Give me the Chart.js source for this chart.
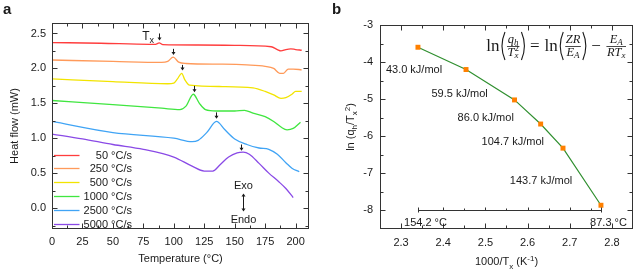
<!DOCTYPE html>
<html>
<head>
<meta charset="utf-8">
<script src="https://cdn.jsdelivr.net/npm/chart.js@4.4.3/dist/chart.umd.min.js"></script>
<style>
    html, body { margin: 0; padding: 0; background: #fff; }
    #wrap { position: relative; width: 638px; height: 272px; }
    canvas { position: absolute; top: 0; }
    #chartA { left: 0; }
    #chartB { left: 320px; }
</style>
</head>
<body>
<div id="wrap">
    <canvas id="chartA" width="320" height="272"></canvas>
    <canvas id="chartB" width="318" height="272"></canvas>
</div>
<script>
// -----------------------------
// Data: panel a (DSC heat flow curves)
// -----------------------------
const RATE_LABELS = ["50 °C/s", "250 °C/s", "500 °C/s", "1000 °C/s", "2500 °C/s", "5000 °C/s"];
const RATE_COLORS = ["#ff3d3d", "#ff9a5a", "#f2e400", "#40e640", "#40a4f5", "#8a4ae6"];

const T_50 = [0, 40, 80, 85, 88, 91, 120, 150, 180, 185, 188, 192, 196, 200, 205];
const HF_50 = [2.37, 2.36, 2.345, 2.345, 2.365, 2.34, 2.335, 2.33, 2.31, 2.27, 2.25, 2.27, 2.28, 2.27, 2.26];

const T_250 = [0, 50, 90, 95, 99.5, 104, 110, 140, 160, 175, 182, 187, 190, 194, 198, 205];
const HF_250 = [2.12, 2.10, 2.085, 2.10, 2.16, 2.09, 2.07, 2.06, 2.05, 2.03, 2.00, 1.93, 1.93, 1.99, 1.99, 1.98];

const T_500 = [0, 50, 95, 100, 103, 106.5, 109, 113, 140, 165, 175, 182, 188, 192, 197, 200, 205];
const HF_500 = [1.85, 1.81, 1.78, 1.79, 1.85, 1.93, 1.84, 1.76, 1.74, 1.72, 1.67, 1.62, 1.57, 1.58, 1.63, 1.67, 1.67];

const T_1000 = [0, 50, 90, 105, 110, 116, 121, 126, 135, 150, 158, 165, 175, 182, 188, 193, 198, 204];
const HF_1000 = [1.54, 1.48, 1.43, 1.41, 1.46, 1.63, 1.50, 1.41, 1.39, 1.39, 1.40, 1.36, 1.31, 1.24, 1.16, 1.12, 1.14, 1.23];

const T_2500 = [0, 50, 100, 115, 120, 127, 135, 142, 150, 160, 170, 178, 185, 192, 197, 203];
const HF_2500 = [1.24, 1.08, 1.00, 0.95, 0.97, 1.08, 1.24, 1.12, 0.99, 0.91, 0.86, 0.84, 0.77, 0.65, 0.57, 0.52];

const T_5000 = [0, 25, 50, 75, 100, 115, 125, 132, 138, 145, 152, 157, 162, 170, 178, 186, 192, 198];
const HF_5000 = [1.06, 0.99, 0.91, 0.84, 0.73, 0.60, 0.53, 0.53, 0.62, 0.73, 0.79, 0.80, 0.77, 0.64, 0.50, 0.38, 0.28, 0.15];

const TEMPS = [T_50, T_250, T_500, T_1000, T_2500, T_5000];
const FLOWS = [HF_50, HF_250, HF_500, HF_1000, HF_2500, HF_5000];

// Tx markers (arrow above each crystallisation peak)
const TX_TEMP = [88, 99.5, 107, 116.5, 134.5, 155.5];
const TX_ARROW_TOP = [2.50, 2.28, 2.05, 1.75, 1.37, 0.91];
const TX_ARROW_BOTTOM = [2.40, 2.19, 1.97, 1.66, 1.28, 0.82];

const A_X_TICKS = [0, 25, 50, 75, 100, 125, 150, 175, 200];
const A_Y_TICKS = [0, 0.5, 1.0, 1.5, 2.0, 2.5];

// -----------------------------
// Data: panel b (Kissinger plot)
// -----------------------------
const INV_TX = [2.340, 2.454, 2.569, 2.631, 2.684, 2.774];
const LN_Q_T2 = [-3.60, -4.20, -5.02, -5.67, -6.32, -7.86];

const EA_LABELS = ["43.0 kJ/mol", "59.5 kJ/mol", "86.0 kJ/mol", "104.7 kJ/mol", "143.7 kJ/mol"];
const EA_LABEL_X = [2.264, 2.372, 2.434, 2.491, 2.558];
const EA_LABEL_Y = [-4.22, -4.85, -5.50, -6.16, -7.21];

const TX_RANGE_LABELS = ["154.2 °C", "87.3 °C"];

const B_X_TICKS = [2.3, 2.4, 2.5, 2.6, 2.7, 2.8];
const B_Y_TICKS = [-8, -7, -6, -5, -4, -3];

const SANS = "'Liberation Sans', Arial, sans-serif";
const SERIF = "'Liberation Serif', 'Times New Roman', serif";
const INK = "#1a1a1a";

Chart.defaults.font.family = SANS;
Chart.defaults.font.size = 11;
Chart.defaults.color = INK;

// text with sub/superscripts: parts = [[text, ""|"sub"|"sup"], ...]
function richText(ctx, parts, x, y, size, align, rotate) {
    const fontFor = m => `${m ? Math.round(size * 0.72) : size}px ${SANS}`;
    let w = 0;
    parts.forEach(([t, m]) => { ctx.font = fontFor(m); w += ctx.measureText(t).width; });
    ctx.save();
    ctx.translate(x, y);
    if (rotate) ctx.rotate(-Math.PI / 2);
    let cx = align === "center" ? -w / 2 : align === "right" ? -w : 0;
    ctx.textAlign = "left";
    ctx.textBaseline = "alphabetic";
    ctx.fillStyle = INK;
    parts.forEach(([t, m]) => {
        ctx.font = fontFor(m);
        const dy = m === "sub" ? size * 0.3 : m === "sup" ? -size * 0.4 : 0;
        ctx.fillText(t, cx, size * 0.36 + dy);
        cx += ctx.measureText(t).width;
    });
    ctx.restore();
}

function minorValues(major, min, max) {
    const out = [];
    const step = major[1] - major[0];
    for (let i = 0; i < major.length - 1; i++) out.push((major[i] + major[i + 1]) / 2);
    const lo = major[0] - step / 2, hi = major[major.length - 1] + step / 2;
    if (lo > min + 1e-9) out.push(lo);
    if (hi < max - 1e-9) out.push(hi);
    return out;
}

// box frame with inward ticks on all four sides
function drawFrame(chart, xMajor, yMajor) {
    const { ctx, chartArea: a, scales: { x, y } } = chart;
    const L = Math.round(a.left) + 0.5, R = Math.round(a.right) - 0.5;
    const T = Math.round(a.top) + 0.5, B = Math.round(a.bottom) - 0.5;
    ctx.save();
    ctx.strokeStyle = "#333";
    ctx.lineWidth = 1;
    ctx.strokeRect(L, T, R - L, B - T);
    ctx.beginPath();
    const xt = (v, len) => {
        const px = Math.round(x.getPixelForValue(v)) + 0.5;
        ctx.moveTo(px, B); ctx.lineTo(px, B - len);
        ctx.moveTo(px, T); ctx.lineTo(px, T + len);
    };
    const yt = (v, len) => {
        const py = Math.round(y.getPixelForValue(v)) + 0.5;
        ctx.moveTo(L, py); ctx.lineTo(L + len, py);
        ctx.moveTo(R, py); ctx.lineTo(R - len, py);
    };
    xMajor.forEach(v => xt(v, 5));
    minorValues(xMajor, x.min, x.max).forEach(v => xt(v, 3));
    yMajor.forEach(v => yt(v, 5));
    minorValues(yMajor, y.min, y.max).forEach(v => yt(v, 3));
    ctx.stroke();
    ctx.restore();
}

function downArrow(ctx, px, top, bottom) {
    ctx.beginPath();
    ctx.moveTo(px, top);
    ctx.lineTo(px, bottom - 2);
    ctx.stroke();
    ctx.beginPath();
    ctx.moveTo(px - 2, bottom - 3);
    ctx.lineTo(px + 2, bottom - 3);
    ctx.lineTo(px, bottom);
    ctx.closePath();
    ctx.fill();
}

// -----------------------------
// Panel a
// -----------------------------
const panelAPlugin = {
    id: "panelA",
    afterDraw(chart) {
        const { ctx, chartArea: a, scales: { x, y } } = chart;
        drawFrame(chart, A_X_TICKS, A_Y_TICKS);

        ctx.save();
        ctx.strokeStyle = INK;
        ctx.fillStyle = INK;
        ctx.lineWidth = 1;
        TX_TEMP.forEach((t, i) => {
            const px = Math.round(x.getPixelForValue(t)) + 0.5;
            downArrow(ctx, px, y.getPixelForValue(TX_ARROW_TOP[i]), y.getPixelForValue(TX_ARROW_BOTTOM[i]));
        });
        richText(ctx, [["T", ""], ["x", "sub"]], x.getPixelForValue(74), y.getPixelForValue(2.47), 12, "left");

        // Exo / Endo
        const ex = Math.round(x.getPixelForValue(157)) + 0.5;
        ctx.font = `11px ${SANS}`;
        ctx.textAlign = "center";
        ctx.textBaseline = "middle";
        ctx.fillText("Exo", ex, y.getPixelForValue(0.31));
        ctx.fillText("Endo", ex, y.getPixelForValue(-0.17));
        const t0 = y.getPixelForValue(0.21), b0 = y.getPixelForValue(-0.05);
        ctx.beginPath(); ctx.moveTo(ex, t0 + 2); ctx.lineTo(ex, b0 - 2); ctx.stroke();
        ctx.beginPath(); ctx.moveTo(ex - 2, t0 + 3); ctx.lineTo(ex + 2, t0 + 3); ctx.lineTo(ex, t0); ctx.closePath(); ctx.fill();
        ctx.beginPath(); ctx.moveTo(ex - 2, b0 - 3); ctx.lineTo(ex + 2, b0 - 3); ctx.lineTo(ex, b0); ctx.closePath(); ctx.fill();

        // legend
        chart.data.datasets.forEach((ds, i) => {
            const ly = Math.round(a.bottom - 74.5 + i * 13.95) + 0.5;
            ctx.strokeStyle = ds.borderColor;
            ctx.lineWidth = 1.3;
            ctx.beginPath();
            ctx.moveTo(a.left + 2, ly);
            ctx.lineTo(a.left + 27.5, ly);
            ctx.stroke();
            ctx.fillStyle = INK;
            ctx.textAlign = "right";
            ctx.textBaseline = "middle";
            ctx.fillText(ds.label, a.left + 80, ly + 0.5);
        });

        // titles
        ctx.font = `11px ${SANS}`;
        ctx.textAlign = "center";
        ctx.fillText("Temperature (°C)", (a.left + a.right) / 2, 259);
        ctx.save();
        ctx.translate(15, (a.top + a.bottom) / 2);
        ctx.rotate(-Math.PI / 2);
        ctx.fillText("Heat flow (mW)", 0, 0);
        ctx.restore();

        ctx.font = `bold 15px ${SANS}`;
        ctx.textAlign = "left";
        ctx.textBaseline = "alphabetic";
        ctx.fillText("a", 3, 14);
        ctx.restore();
    }
};

new Chart(document.getElementById("chartA"), {
    type: "line",
    data: {
        datasets: TEMPS.map((temps, i) => ({
            label: RATE_LABELS[i],
            data: temps.map((t, j) => ({ x: t, y: FLOWS[i][j] })),
            borderColor: RATE_COLORS[i],
            borderWidth: 1.3,
            pointRadius: 0,
            cubicInterpolationMode: "monotone",
            fill: false
        }))
    },
    options: {
        responsive: false,
        animation: false,
        layout: { padding: { top: 23, right: 11, left: 0, bottom: 0 } },
        plugins: { legend: { display: false }, tooltip: { enabled: false } },
        scales: {
            x: {
                type: "linear",
                min: 0,
                max: 211,
                grid: { display: false, drawTicks: false },
                border: { display: false },
                ticks: { padding: 6, autoSkip: false, maxRotation: 0, callback: v => String(v) },
                afterBuildTicks: s => { s.ticks = A_X_TICKS.map(v => ({ value: v })); },
                afterFit: s => { s.height = 43; }
            },
            y: {
                type: "linear",
                min: -0.3,
                max: 2.65,
                grid: { display: false, drawTicks: false },
                border: { display: false },
                ticks: { padding: 6, autoSkip: false, callback: v => v.toFixed(1) },
                afterBuildTicks: s => { s.ticks = A_Y_TICKS.map(v => ({ value: v })); },
                afterFit: s => { s.width = 52; }
            }
        }
    },
    plugins: [panelAPlugin]
});

// -----------------------------
// Panel b
// -----------------------------
function drawFormula(ctx, right, cy) {
    const big = `17px ${SERIF}`;
    const it = `italic 12.5px ${SERIF}`;
    const itS = `italic 9px ${SERIF}`;
    const upS = `9px ${SERIF}`;
    // run: list of {t, f, dy, st}; st = stack over previous piece
    const run = (parts, x0, yb, draw) => {
        let x = x0, ps = x0, pw = 0;
        parts.forEach(p => {
            ctx.font = p.f;
            const m = ctx.measureText(p.t).width;
            const sx = p.st ? ps : x;
            if (draw) ctx.fillText(p.t, sx, yb + (p.dy || 0));
            if (p.st) { x = ps + Math.max(pw, m); } else { ps = x; pw = m; x += m; }
        });
        return x - x0;
    };
    const qh = [{ t: "q", f: it }, { t: "h", f: itS, dy: 2 }];
    const tx2 = [{ t: "T", f: it }, { t: "x", f: itS, dy: 2.5 }, { t: "2", f: upS, dy: -5, st: true }];
    const zr = [{ t: "ZR", f: it }];
    const ea = [{ t: "E", f: it }, { t: "A", f: itS, dy: 2 }];
    const rtx = [{ t: "RT", f: it }, { t: "x", f: itS, dy: 2 }];
    const items = [
        { k: "t", t: "ln" }, { k: "(" }, { k: "f", n: qh, d: tx2 }, { k: ")" },
        { k: "t", t: "=", pad: 4 },
        { k: "t", t: "ln" }, { k: "(" }, { k: "f", n: zr, d: ea }, { k: ")" },
        { k: "t", t: "\u2212", pad: 4 },
        { k: "f", n: ea, d: rtx }
    ];
    const width = item => {
        if (item.k === "t") { ctx.font = big; return ctx.measureText(item.t).width + 2 * (item.pad || 0) + 1; }
        if (item.k === "(" || item.k === ")") return 6;
        return Math.max(run(item.n, 0, 0, false), run(item.d, 0, 0, false)) + 2;
    };
    const total = items.reduce((s, it2) => s + width(it2), 0);
    let x = right - total;
    ctx.save();
    ctx.fillStyle = INK;
    ctx.strokeStyle = INK;
    ctx.textAlign = "left";
    ctx.textBaseline = "alphabetic";
    items.forEach(item => {
        const w = width(item);
        if (item.k === "t") {
            ctx.font = big;
            ctx.fillText(item.t, x + (item.pad || 0), cy + 5);
        } else if (item.k === "(" || item.k === ")") {
            const o = item.k === "(";
            ctx.lineWidth = 1.1;
            ctx.beginPath();
            ctx.moveTo(o ? x + 4.5 : x + 1.5, cy - 14);
            ctx.quadraticCurveTo(o ? x - 1.5 : x + 7.5, cy, o ? x + 4.5 : x + 1.5, cy + 14);
            ctx.stroke();
        } else {
            const nw = run(item.n, 0, 0, false), dw = run(item.d, 0, 0, false);
            run(item.n, x + (w - nw) / 2, cy - 3.5, true);
            run(item.d, x + (w - dw) / 2, cy + 9.5, true);
            ctx.lineWidth = 0.8;
            ctx.beginPath();
            ctx.moveTo(x + 0.5, cy + 0.5);
            ctx.lineTo(x + w - 0.5, cy + 0.5);
            ctx.stroke();
        }
        x += w;
    });
    ctx.restore();
}

const panelBPlugin = {
    id: "panelB",
    afterDraw(chart) {
        const { ctx, chartArea: a, scales: { x, y } } = chart;
        drawFrame(chart, B_X_TICKS, B_Y_TICKS);

        ctx.save();
        ctx.fillStyle = INK;
        ctx.font = `11px ${SANS}`;
        ctx.textAlign = "left";
        ctx.textBaseline = "middle";
        EA_LABELS.forEach((lab, i) => {
            ctx.fillText(lab, x.getPixelForValue(EA_LABEL_X[i]), y.getPixelForValue(EA_LABEL_Y[i]));
        });

        // Tx range bar at ln = -8, with small upward ticks
        const lo = INV_TX[0], hi = INV_TX[INV_TX.length - 1];
        const x0 = Math.round(x.getPixelForValue(lo)) + 0.5;
        const x1 = Math.round(x.getPixelForValue(hi)) + 0.5;
        const by = Math.round(y.getPixelForValue(-8)) + 0.5;
        ctx.strokeStyle = "#333";
        ctx.lineWidth = 1;
        ctx.beginPath();
        ctx.moveTo(x0, by - 3); ctx.lineTo(x0, by + 2);
        ctx.moveTo(x0, by); ctx.lineTo(x1, by);
        ctx.moveTo(x1, by - 3); ctx.lineTo(x1, by + 2);
        B_X_TICKS.concat(minorValues(B_X_TICKS, x.min, x.max)).forEach(v => {
            if (v <= lo + 0.01 || v >= hi - 0.01) return;
            const px = Math.round(x.getPixelForValue(v)) + 0.5;
            const major = B_X_TICKS.includes(v);
            ctx.moveTo(px, by); ctx.lineTo(px, by - (major ? 3 : 2));
        });
        ctx.stroke();
        ctx.textAlign = "center";
        ctx.fillText(TX_RANGE_LABELS[0], x0 + 7, by + 12);
        ctx.fillText(TX_RANGE_LABELS[1], x1 + 7, by + 12);

        drawFormula(ctx, a.right - 6.5, a.top + 21);

        // titles
        richText(ctx, [["1000/T", ""], ["x", "sub"], [" (K", ""], ["-1", "sup"], [")", ""]],
            (a.left + a.right) / 2, 261.5, 11, "center");
        richText(ctx, [["ln (q", ""], ["h", "sub"], ["/T", ""], ["x", "sub"], ["2", "sup"], [")", ""]],
            30, (a.top + a.bottom) / 2, 11, "center", true);

        ctx.font = `bold 15px ${SANS}`;
        ctx.textAlign = "left";
        ctx.textBaseline = "alphabetic";
        ctx.fillStyle = INK;
        ctx.fillText("b", 12, 14);
        ctx.restore();
    }
};

new Chart(document.getElementById("chartB"), {
    type: "line",
    data: {
        datasets: [{
            data: INV_TX.map((v, i) => ({ x: v, y: LN_Q_T2[i] })),
            borderColor: "#2f8f2f",
            borderWidth: 1.2,
            tension: 0,
            pointStyle: "rect",
            pointRadius: 3.5,
            pointBackgroundColor: "#ff8000",
            pointBorderColor: "#ff8000",
            pointBorderWidth: 0,
            fill: false
        }]
    },
    options: {
        responsive: false,
        animation: false,
        layout: { padding: { top: 25, right: 5, left: 0, bottom: 0 } },
        plugins: { legend: { display: false }, tooltip: { enabled: false } },
        scales: {
            x: {
                type: "linear",
                min: 2.25,
                max: 2.85,
                grid: { display: false, drawTicks: false },
                border: { display: false },
                ticks: { padding: 7, autoSkip: false, maxRotation: 0, callback: v => v.toFixed(1) },
                afterBuildTicks: s => { s.ticks = B_X_TICKS.map(v => ({ value: v })); },
                afterFit: s => { s.height = 43; }
            },
            y: {
                type: "linear",
                min: -8.5,
                max: -3,
                grid: { display: false, drawTicks: false },
                border: { display: false },
                ticks: { padding: 7, autoSkip: false, callback: v => String(v) },
                afterBuildTicks: s => { s.ticks = B_Y_TICKS.map(v => ({ value: v })); },
                afterFit: s => { s.width = 60; }
            }
        }
    },
    plugins: [panelBPlugin]
});
</script>
</body>
</html>
